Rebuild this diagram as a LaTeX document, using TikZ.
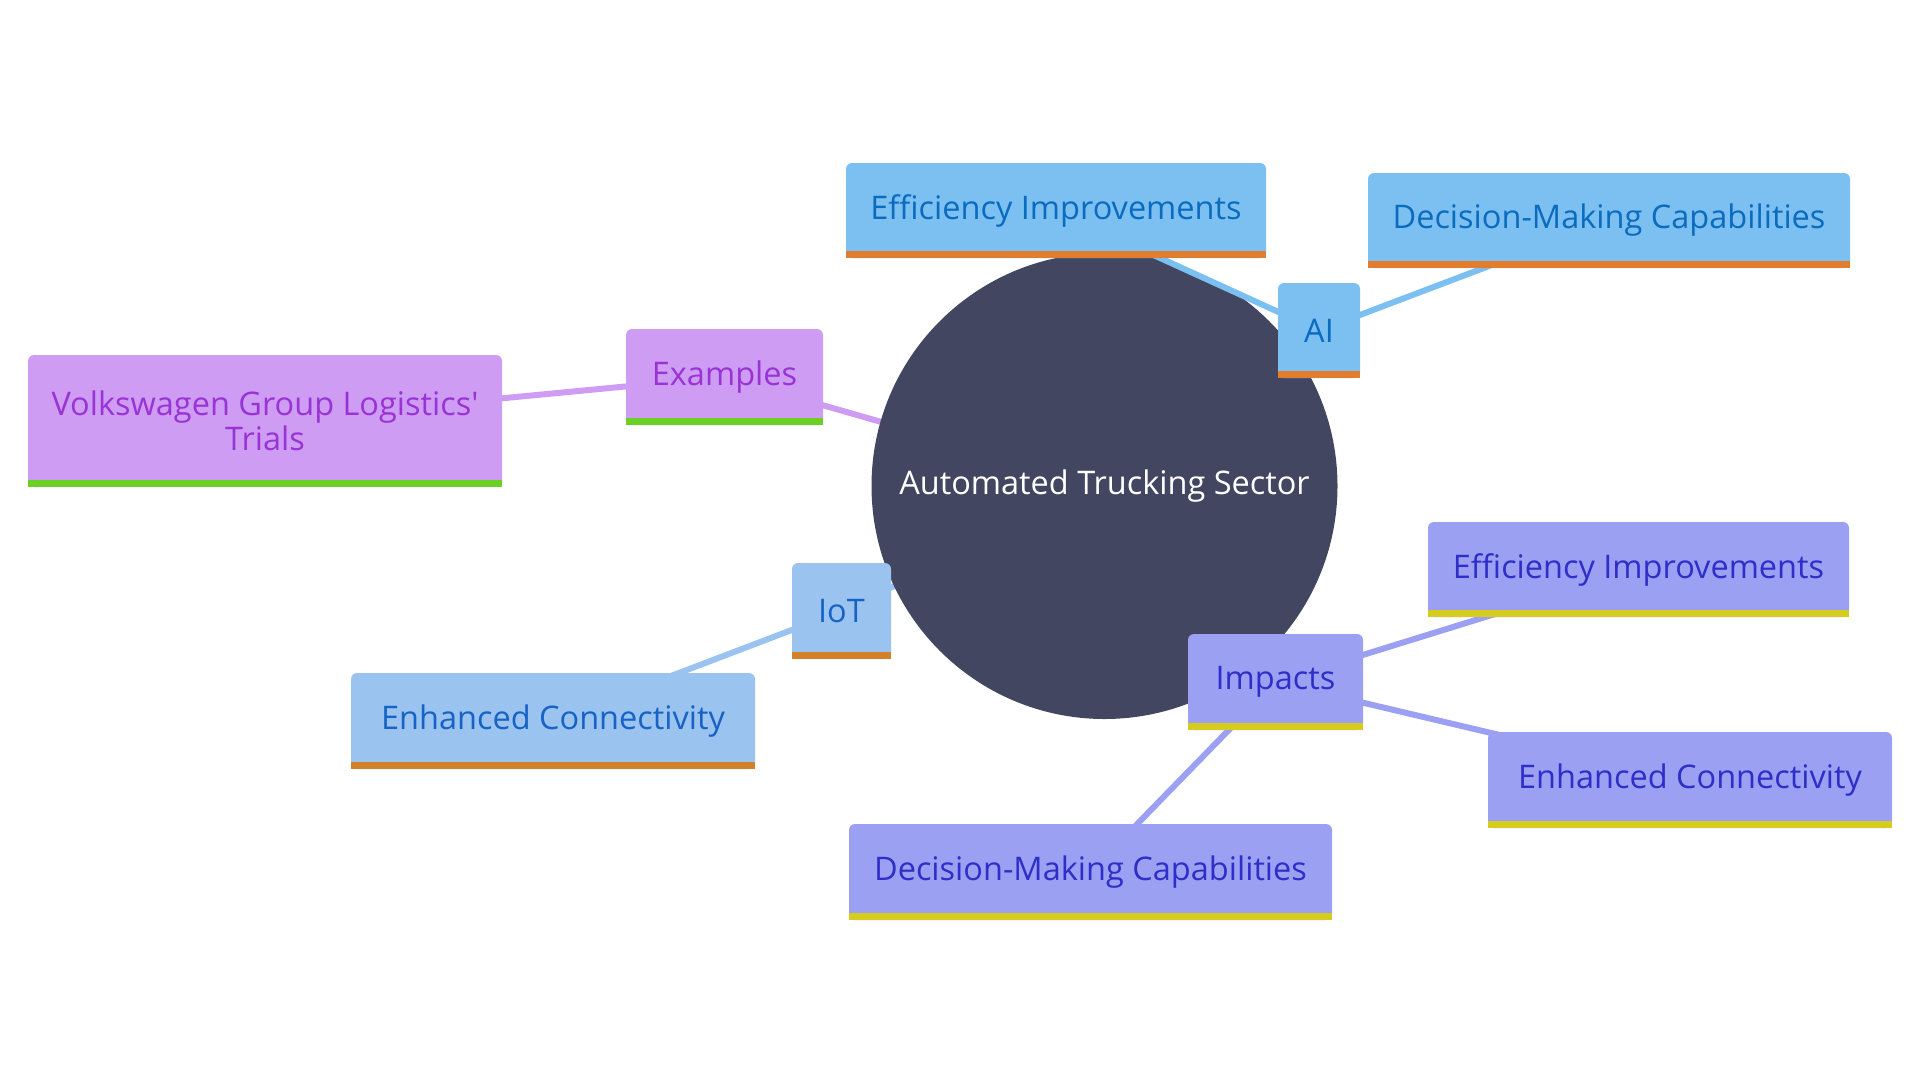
\documentclass[tikz,border=0pt]{standalone}
\usepackage{fontspec}
\setmainfont{Open Sans}
\pgfdeclarelayer{bg}
\pgfdeclarelayer{mid}
\pgfdeclarelayer{conn}
\pgfsetlayers{bg,mid,conn,main}
\definecolor{rootc}{HTML}{424660}
\definecolor{aif}{HTML}{7BC0F0}
\definecolor{ait}{HTML}{0B6BBF}
\definecolor{aib}{HTML}{E27D2E}
\definecolor{iof}{HTML}{9BC3EF}
\definecolor{iot}{HTML}{1763C5}
\definecolor{iob}{HTML}{D2802A}
\definecolor{exf}{HTML}{CE9CF2}
\definecolor{ext}{HTML}{9A33D6}
\definecolor{exb}{HTML}{6CCF24}
\definecolor{imf}{HTML}{9BA0F2}
\definecolor{imt}{HTML}{2E2EC8}
\definecolor{imb}{HTML}{D6CC1E}
\tikzset{
  every node/.style={font=\fontsize{32.5}{35}\selectfont},
  box/.style={rectangle, rounded corners=6pt, inner sep=0pt, align=center},
  aibox/.style={box, fill=aif, text=ait},
  iobox/.style={box, fill=iof, text=iot},
  exbox/.style={box, fill=exf, text=ext},
  imbox/.style={box, fill=imf, text=imt},
  link/.style={line width=6pt},
}
\newcommand{\boxbar}[2]{\fill[#2] ([yshift=7pt]#1.south west) rectangle (#1.south east);}
\begin{document}
\begin{tikzpicture}[x=1pt,y=-1pt]
\useasboundingbox (0,0) rectangle (1920,1080);
\begin{pgfonlayer}{mid}
\node[circle, fill=rootc, minimum size=466pt, inner sep=0pt, text=white] (root) at (1104.5,486) {Automated Trucking Sector};
\end{pgfonlayer}
% AI
\node[aibox, minimum width=82pt, minimum height=95pt] (ai) at (1319,330.5) {AI};
\node[aibox, minimum width=420pt, minimum height=95pt] (e1) at (1056,210.5) {Efficiency Improvements};
\node[aibox, minimum width=482pt, minimum height=95pt] (d1) at (1609,220.5) {Decision-Making Capabilities};
% Examples
\node[exbox, minimum width=197pt, minimum height=96pt] (ex) at (724.5,377) {Examples};
\node[exbox, minimum width=474pt, minimum height=132pt] (vw) at (265,421) {Volkswagen Group Logistics\textquotesingle\\Trials};
% IoT
\node[iobox, minimum width=99pt, minimum height=96pt] (iot) at (841.5,611) {IoT};
\node[iobox, minimum width=404pt, minimum height=96pt] (ec1) at (553,721) {Enhanced Connectivity};
% Impacts
\node[imbox, minimum width=175pt, minimum height=96pt] (im) at (1275.5,682) {Impacts};
\node[imbox, minimum width=421pt, minimum height=95pt] (e2) at (1638.5,569.5) {Efficiency Improvements};
\node[imbox, minimum width=404pt, minimum height=96pt] (ec2) at (1690,780) {Enhanced Connectivity};
\node[imbox, minimum width=483pt, minimum height=96pt] (d2) at (1090.5,872) {Decision-Making Capabilities};
% bars
\boxbar{ai}{aib}\boxbar{e1}{aib}\boxbar{d1}{aib}
\boxbar{ex}{exb}\boxbar{vw}{exb}
\boxbar{iot}{iob}\boxbar{ec1}{iob}
\boxbar{im}{imb}\boxbar{e2}{imb}\boxbar{ec2}{imb}\boxbar{d2}{imb}
% connectors
\begin{pgfonlayer}{bg}
\draw[link, aif] (root.center) -- (ai.center);
\draw[link, exf] (root.center) -- (ex.center);
\draw[link, iof] (root.center) -- (iot.center);
\draw[link, imf] (root.center) -- (im.center);
\end{pgfonlayer}
\begin{pgfonlayer}{conn}
\draw[link, aif] (ai.center) -- (e1.center);
\draw[link, aif] (ai.center) -- (d1.center);
\draw[link, exf] (ex.center) -- (vw.center);
\draw[link, iof] (iot.center) -- (ec1.center);
\draw[link, imf] (im.center) -- (e2.center);
\draw[link, imf] (im.center) -- (ec2.center);
\draw[link, imf] (im.center) -- (d2.center);
\end{pgfonlayer}
\end{tikzpicture}
\end{document}
